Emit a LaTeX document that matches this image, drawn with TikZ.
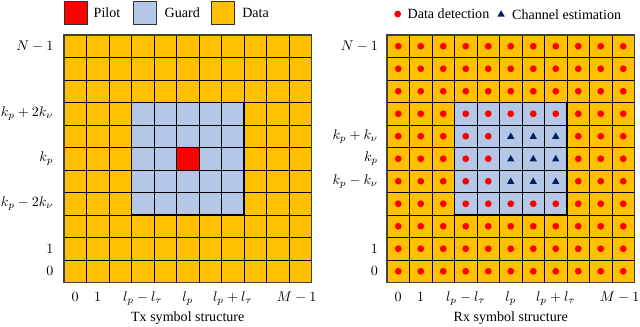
\documentclass[tikz,border=0pt]{standalone}
\usepackage{fontspec}
\setmainfont{Liberation Serif}
\usetikzlibrary{positioning, shapes.geometric}

\definecolor{datacol}{HTML}{FFC000}
\definecolor{guardcol}{HTML}{B4C7E7}
\definecolor{pilotcol}{HTML}{FF0000}
\definecolor{dotcol}{HTML}{FF0000}
\definecolor{tricol}{HTML}{002060}

\begin{document}
\begin{tikzpicture}[x=0.025cm, y=0.025cm,
    cell/.style={rectangle, draw=black, line width=0.5pt, minimum size=0.5625cm, inner sep=0pt, outer sep=0pt},
    key/.style={rectangle, draw=black!80, line width=0.6pt, minimum size=0.575cm, inner sep=0pt},
    keytext/.style={inner sep=0pt, font=\fontsize{10}{12}\selectfont},
    rowlab/.style={inner sep=0pt, font=\fontsize{10}{12}\selectfont},
    collab/.style={inner sep=0pt, text height=1.6ex, text depth=0.5ex, font=\fontsize{10}{12}\selectfont},
    dot/.style={circle, fill=dotcol, minimum size=0.17cm, inner sep=0pt},
    tri/.style={regular polygon, regular polygon sides=3, fill=tricol, minimum size=0.21cm, inner sep=0pt, yshift=-0.3pt},
    frame/.style={line width=1.1pt}]

\useasboundingbox (0,0) rectangle (640,327);

% Tx grid
\foreach \c in {0,...,10}
  \foreach \r in {0,...,10}{
    \def\clr{datacol}
    \ifnum\c>2 \ifnum\c<8 \ifnum\r>2 \ifnum\r<8 \def\clr{guardcol}\fi\fi\fi\fi
    \ifnum\c=5 \ifnum\r=5 \def\clr{pilotcol}\fi\fi
    \node[cell, fill=\clr] (tx-\c-\r) at (75.25+22.5*\c, 55.75+22.5*\r) {};
  }
\draw[frame] (tx-3-3.south west) rectangle (tx-7-7.north east);
\draw[frame, black!75] (tx-0-0.south west) rectangle (tx-10-10.north east);

% Rx grid
\foreach \c in {0,...,10}
  \foreach \r in {0,...,10}{
    \def\clr{datacol}
    \def\mrk{dot}
    \ifnum\c>2 \ifnum\c<8 \ifnum\r>2 \ifnum\r<8 \def\clr{guardcol}\fi\fi\fi\fi
    \ifnum\c>4 \ifnum\c<8 \ifnum\r>3 \ifnum\r<7 \def\mrk{tri}\fi\fi\fi\fi
    \node[cell, fill=\clr] (rx-\c-\r) at (398.25+22.5*\c, 55.75+22.5*\r) {};
    \node[\mrk] (m-\c-\r) at (rx-\c-\r) {};
  }
\draw[frame] (rx-3-3.south west) rectangle (rx-7-7.north east);
\draw[frame, black!75] (rx-0-0.south west) rectangle (rx-10-10.north east);

% axis labels
\foreach \r/\t in {10/{$N-1$}, 7/{$k_p+2k_\nu$}, 5/{$k_p$}, 3/{$k_p-2k_\nu$}, 1/{$1$}, 0/{$0$}}
  \node[rowlab, left=0.26cm of tx-0-\r] (txrow-\r) {\t};
\foreach \r/\t in {10/{$N-1$}, 6/{$k_p+k_\nu$}, 5/{$k_p$}, 4/{$k_p-k_\nu$}, 1/{$1$}, 0/{$0$}}
  \node[rowlab, left=0.22cm of rx-0-\r] (rxrow-\r) {\t};
\foreach \c/\t in {0/{$0$}, 1/{$1$}, 3/{$l_p-l_\tau$}, 5/{$l_p$}, 7/{$l_p+l_\tau$}}{
  \node[collab, below=0.2cm of tx-\c-0] (txcol-\c) {\t};
  \node[collab, below=0.2cm of rx-\c-0] (rxcol-\c) {\t};
}
\node[collab, below=0.2cm of tx-10-0, xshift=-0.09cm] (txcol-10) {$M-1$};
\node[collab, below=0.2cm of rx-10-0, xshift=-0.09cm] (rxcol-10) {$M-1$};

\node[keytext, below=0.72cm of tx-5-0] (txtitle) {Tx symbol structure};
\node[keytext, below=0.72cm of rx-5-0] (rxtitle) {Rx symbol structure};

% legends
\node[key, fill=pilotcol] (pilotkey) at (75.5, 314.5) {};
\node[keytext, right=0.15cm of pilotkey] (pilottxt) {Pilot};
\node[key, fill=guardcol, right=0.3cm of pilottxt] (guardkey) {};
\node[keytext, right=0.2cm of guardkey] (guardtxt) {Guard};
\node[key, fill=datacol, right=0.27cm of guardtxt] (datakey) {};
\node[keytext, right=0.18cm of datakey] (datatxt) {Data};

\node[dot] (dotkey) at (397.7, 313) {};
\node[keytext, right=0.15cm of dotkey] (dottxt) {Data detection};
\node[tri, right=0.22cm of dottxt] (trikey) {};
\node[keytext, right=0.2cm of trikey] (tritxt) {Channel estimation};
\end{tikzpicture}
\end{document}
